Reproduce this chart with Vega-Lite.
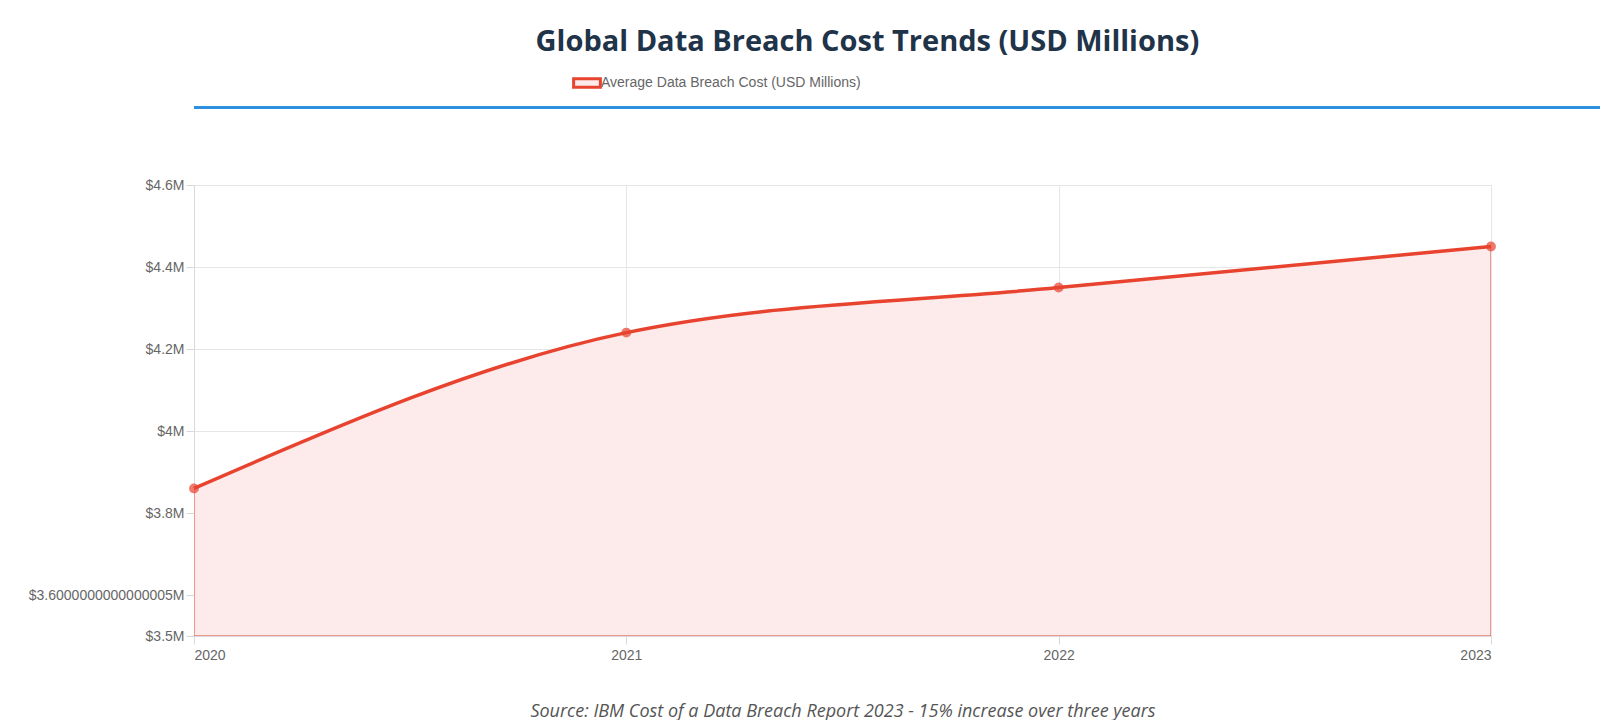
{
  "$schema": "https://vega.github.io/schema/vega-lite/v6.json",
  "background": "white",
  "padding": {"left": 27, "top": 28, "right": 58, "bottom": 15},
  "title": {
    "text": "Global Data Breach Cost Trends (USD Millions)",
    "fontSize": 29,
    "font": "Open Sans",
    "fontWeight": "bold",
    "color": "#1f3349",
    "anchor": "middle",
    "offset": 16
  },
  "config": {
    "font": "Liberation Sans",
    "axis": {"labelColor": "#666", "labelFontSize": 14, "gridColor": "#e6e6e6", "domainColor": "#d9d9d9", "tickColor": "#d9d9d9"}
  },
  "align": "none",
  "spacing": 68,
  "vconcat": [
    {
      "width": 1513,
      "height": 3,
      "view": {"stroke": null, "fill": "#2e90e0"},
      "data": {"values": []},
      "mark": "point"
    },
    {
      "width": 1297,
      "height": 451,
      "view": {"stroke": "#e6e6e6"},
      "data": {
        "values": [
          {"year": 2020, "cost": 3.86, "series": "Average Data Breach Cost (USD Millions)"},
          {"year": 2021, "cost": 4.24, "series": "Average Data Breach Cost (USD Millions)"},
          {"year": 2022, "cost": 4.35, "series": "Average Data Breach Cost (USD Millions)"},
          {"year": 2023, "cost": 4.45, "series": "Average Data Breach Cost (USD Millions)"}
        ]
      },
      "encoding": {
        "x": {
          "field": "year", "type": "quantitative",
          "scale": {"domain": [2020, 2023], "nice": false, "zero": false},
          "axis": {"values": [2020, 2021, 2022, 2023], "format": "d", "tickSize": 8, "labelPadding": 4,
            "title": "Source: IBM Cost of a Data Breach Report 2023 - 15% increase over three years",
            "titleFont": "Open Sans", "titleFontStyle": "italic", "titleFontWeight": "normal", "titleFontSize": 18, "titleColor": "#555", "titlePadding": 40}
        },
        "y": {
          "field": "cost", "type": "quantitative",
          "scale": {"domain": [3.5, 4.6], "nice": false, "zero": false},
          "axis": {"values": [3.5, 3.6, 3.8, 4.0, 4.2, 4.4, 4.6], "title": null, "tickSize": 8,
            "labelExpr": "datum.value == 3.6 ? '$3.6000000000000005M' : '$' + datum.value + 'M'"}
        }
      },
      "layer": [
        {
          "mark": {"type": "area", "interpolate": "monotone", "fill": "#fcebea", "opacity": 1, "clip": true},
          "encoding": {
            "y2": {"datum": 3.5},
            "stroke": {"field": "series", "type": "nominal", "scale": {"range": ["#e8432f"]},
              "legend": {"title": null, "orient": "none", "legendX": 383, "legendY": -33, "labelLimit": 500, "symbolType": "M-1.6,-0.5H1.6V0.5H-1.6Z", "symbolSize": 280, "symbolStrokeWidth": 3, "symbolFillColor": "#fcebea", "labelFontSize": 14, "labelColor": "#666"}}
          }
        },
        {
          "mark": {"type": "line", "interpolate": "monotone", "color": "#e8432f", "strokeWidth": 3.5}
        },
        {
          "mark": {"type": "point", "filled": true, "color": "#e8432f", "size": 70, "stroke": "#e8432f", "strokeWidth": 1.5}
        }
      ]
    }
  ]
}
